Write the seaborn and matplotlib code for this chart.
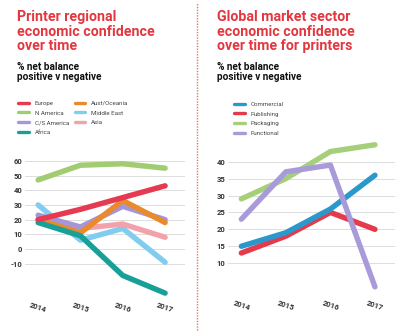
import matplotlib
matplotlib.use("Agg")
import matplotlib.pyplot as plt
from matplotlib.lines import Line2D
import seaborn as sns
import pandas as pd

years = [2014, 2015, 2016, 2017]

# Left chart: regional confidence
europe = [20, 27, 35, 43]
n_america = [47, 57, 58, 55]
cs_america = [23, 15, 29, 20]
africa = [18, 9, -18, -30]
aust_oceania = [20, 11, 33, 18]
middle_east = [30, 6, 14, -9]
asia = [20, 14, 17, 8]
region_names = ["Europe", "N America", "C/S America", "Africa",
                "Aust/Oceania", "Middle East", "Asia"]
region_values = [europe, n_america, cs_america, africa,
                 aust_oceania, middle_east, asia]
left_ticks = [-10, 0, 10, 20, 30, 40, 50, 60]

# Right chart: sector confidence
commercial = [15, 19, 26, 36]
publishing = [13, 18, 25, 20]
packaging = [29, 35, 43, 45]
functional = [23, 37, 39, 3]
sector_names = ["Commercial", "Publishing", "Packaging", "Functional"]
sector_values = [commercial, publishing, packaging, functional]
right_ticks = [10, 15, 20, 25, 30, 35, 40]

region_colors = {"Europe": "#e63a52", "N America": "#a2cc72",
                 "C/S America": "#a596d8", "Africa": "#16a097",
                 "Aust/Oceania": "#e98a2c", "Middle East": "#80cdf0",
                 "Asia": "#f3a2ab"}
sector_colors = {"Commercial": "#2b98cc", "Publishing": "#e43a4c",
                 "Packaging": "#a6cf7a", "Functional": "#a99bd9"}

def long_df(names, values):
    rows = []
    for n, vals in zip(names, values):
        for y, v in zip(years, vals):
            rows.append({"series": n, "year": y, "value": v})
    return pd.DataFrame(rows)

df_left = long_df(region_names, region_values)
df_right = long_df(sector_names, sector_values)

sns.set_theme(style="white")
plt.rcParams["font.family"] = ["Roboto", "DejaVu Sans"]

W, H = 403, 333
fig = plt.figure(figsize=(W / 100, H / 100), dpi=100)
fig.patch.set_facecolor("white")

def frac_rect(x0, y0, x1, y1):
    return [x0 / W, 1 - y1 / H, (x1 - x0) / W, (y1 - y0) / H]

ax1 = fig.add_axes(frac_rect(25, 152, 185, 299))
ax2 = fig.add_axes(frac_rect(228, 138, 395, 297))

LW = 3.9
left_order = ["N America", "Middle East", "Asia", "C/S America",
              "Aust/Oceania", "Africa", "Europe"]
for name in left_order:
    sns.lineplot(data=df_left[df_left.series == name], x="year", y="value",
                 color=region_colors[name], lw=LW, ax=ax1,
                 solid_capstyle="round", solid_joinstyle="round")
right_order = ["Packaging", "Publishing", "Commercial", "Functional"]
for name in right_order:
    sns.lineplot(data=df_right[df_right.series == name], x="year", y="value",
                 color=sector_colors[name], lw=LW, ax=ax2,
                 solid_capstyle="round", solid_joinstyle="round")

def style(ax, ticks, ylim, xlim):
    ax.set_ylim(*ylim)
    ax.set_xlim(*xlim)
    ax.set_yticks(ticks)
    ax.set_yticklabels([str(t) for t in ticks], fontsize=5.5,
                       fontweight="bold", color="#333333")
    ax.set_xticks(years)
    ax.set_xticklabels([str(y) for y in years], fontsize=5.5,
                       fontweight="bold", color="#333333", rotation=-18)
    ax.set_xlabel("")
    ax.set_ylabel("")
    for s in ax.spines.values():
        s.set_visible(False)
    ax.grid(axis="y", color="#d8d8d8", lw=0.6)
    ax.set_axisbelow(True)
    ax.tick_params(axis="both", length=0, pad=2)
    ax.set_facecolor("none")

style(ax1, left_ticks, (-34, 66), (2013.69, 2017.47))
style(ax2, right_ticks, (0, 47), (2013.7, 2017.45))

red = "#e2373f"
title_kw = dict(color=red, fontsize=10.2, fontweight="bold", va="top",
                ha="left", linespacing=1.05)
sub_kw = dict(color="#111111", fontsize=7.2, fontweight="bold", va="top",
              ha="left", linespacing=1.05)
fig.text(17 / W, 1 - 10 / H, "Printer regional\neconomic confidence\nover time",
         **title_kw)
fig.text(17 / W, 1 - 62 / H, "% net balance\npositive v negative", **sub_kw)
fig.text(217 / W, 1 - 10 / H,
         "Global market sector\neconomic confidence\nover time for printers",
         **title_kw)
fig.text(217 / W, 1 - 62 / H, "% net balance\npositive v negative", **sub_kw)

leg_kw = dict(loc="upper left", frameon=False, fontsize=4.4,
              handlelength=1.7, handletextpad=1.0, labelspacing=0.75,
              labelcolor="#444444", borderaxespad=0)
legend_left = ["Europe", "N America", "C/S America", "Africa",
               "Aust/Oceania", "Middle East", "Asia"]
h1 = [Line2D([0], [0], color=region_colors[n], lw=2.4) for n in legend_left]
fig.legend(h1, legend_left, ncol=2, bbox_to_anchor=(16 / W, 1 - 98 / H),
           columnspacing=0.9, **leg_kw)

h2 = [Line2D([0], [0], color=sector_colors[n], lw=2.4) for n in sector_names]
fig.legend(h2, sector_names, ncol=1, bbox_to_anchor=(232 / W, 1 - 99 / H),
           **leg_kw)

fig.add_artist(Line2D([197 / W, 197 / W], [0.01, 0.99], color="#e07a5a",
                      lw=1.0, ls=(0, (1, 1)), transform=fig.transFigure))

fig.savefig("out.png", dpi=100, facecolor="white")
